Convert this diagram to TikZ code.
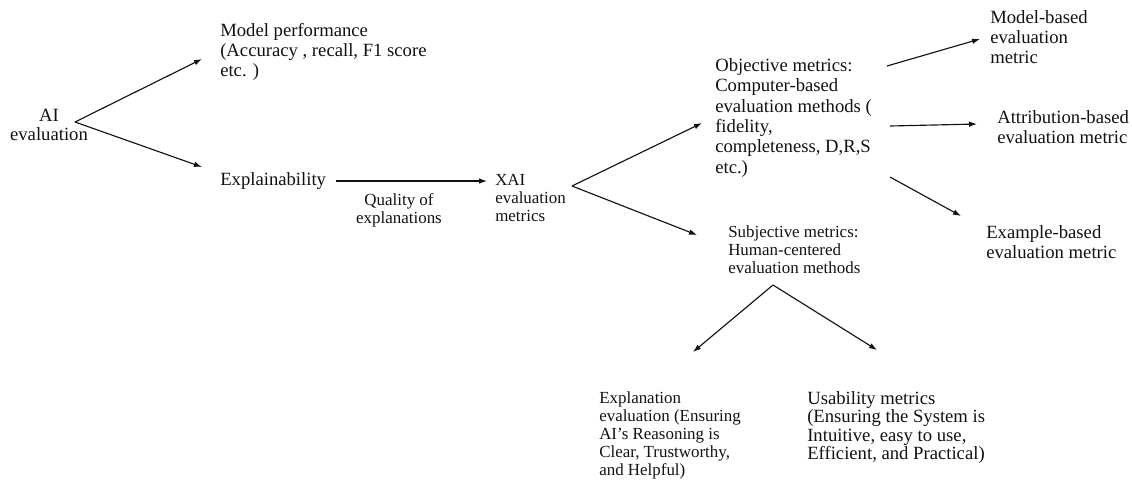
\documentclass[tikz,border=0pt]{standalone}
\usepackage{fontspec}
\setmainfont{Liberation Serif}
\usepackage{xcolor}
\usetikzlibrary{
  arrows.meta,
  positioning,
  calc
}
\definecolor{evInk}{HTML}{111111}
\newcommand{\evbig}{\fontsize{14}{15}\selectfont}
\newcommand{\evsml}{\fontsize{12.7}{13.5}\selectfont}
\tikzset{
  evtext/.style={
    align=left, inner sep=0pt, anchor=north west, font=\evbig, text=evInk
  },
  evsmall/.style={evtext, font=\evsml},
  evcentre/.style={evtext, align=center, anchor=north},
  flow/.style={-{Latex[length=6pt,width=4.2pt]}, line width=0.85pt, evInk}
}

\begin{document}
\begin{tikzpicture}[x=0.75pt,y=-0.75pt]
  \useasboundingbox (0,0) rectangle (1132,480);
  % text blocks
  \node[evcentre, font=\fontsize{14}{14.3}\selectfont] (aieval) at (49,109) {AI\\evaluation};
  \node[evtext] (perf) at (220,23) {Model performance\\(Accuracy , recall, F1 score\\etc. )};
  \node[evtext, anchor=west] (expl) at (220,181) {Explainability};
  \node[evsmall, align=center, anchor=north] (quality) at (399,193) {Quality of\\explanations};
  \node[evsmall] (xai) at (495,174) {XAI\\evaluation\\metrics};
  \node[evtext, font=\fontsize{14}{15.3}\selectfont] (obj) at (715,58)
    {Objective metrics:\\Computer-based\\evaluation methods (\\fidelity,\\completeness, D,R,S\\etc.)};
  \node[evsmall] (subj) at (728,225) {Subjective metrics:\\Human-centered\\evaluation methods};
  \node[evtext] (modelb) at (990,10) {Model-based\\evaluation\\metric};
  \node[evtext] (attrb) at (997,110) {Attribution-based\\evaluation metric};
  \node[evtext] (exampleb) at (986,225) {Example-based\\evaluation metric};
  \node[evsmall] (expleval) at (599,391)
    {Explanation\\evaluation (Ensuring\\AI’s Reasoning is\\Clear, Trustworthy,\\and Helpful)};
  \node[evtext, font=\fontsize{14}{13.8}\selectfont] (usab) at (807,391)
    {Usability metrics\\(Ensuring the System is\\Intuitive, easy to use,\\Efficient, and Practical)};
  % split points and arrow ends
  \coordinate (ai-split) at (75,122);
  \coordinate (perf-in) at (202,59);
  \coordinate (expl-in) at (202,167);
  \coordinate (xai-split) at (572,186);
  \coordinate (obj-in) at (702,123);
  \coordinate (subj-in) at (697,235);
  \coordinate (obj-out1) at (887,66);
  \coordinate (modelb-in) at (980,39);
  \coordinate (obj-out2) at (890,126);
  \coordinate (attrb-in) at (977,124);
  \coordinate (obj-out3) at (890,177);
  \coordinate (exampleb-in) at (961,216);
  \coordinate (subj-split) at (773,285);
  \coordinate (expleval-in) at (693,352);
  \coordinate (usab-in) at (877,350);
  % connectors
  \foreach \a/\b in {ai-split/perf-in, ai-split/expl-in, xai-split/obj-in, xai-split/subj-in,
    obj-out1/modelb-in, obj-out2/attrb-in, obj-out3/exampleb-in,
    subj-split/expleval-in, subj-split/usab-in}{\draw[flow] (\a) -- (\b);}
  \draw[flow, shorten <=10pt*0.75, shorten >=8pt*0.75] (expl.east) -- (expl.east -| xai.west);
\end{tikzpicture}
\end{document}
